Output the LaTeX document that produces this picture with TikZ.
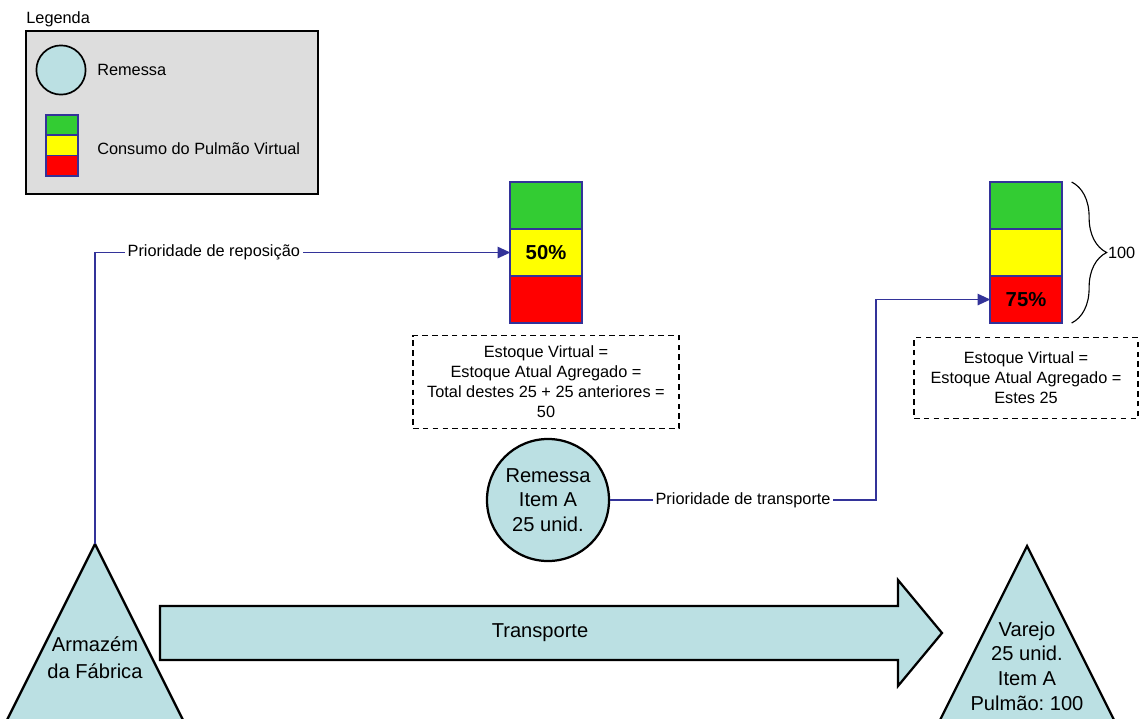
\documentclass[tikz,border=0pt]{standalone}
\usepackage{fontspec}
\setmainfont{Liberation Sans}
\usepackage{xcolor}
\usepackage{tikz}
\usetikzlibrary{arrows.meta, positioning, calc, decorations.pathreplacing}
\definecolor{azulclaro}{HTML}{BBE0E3}
\definecolor{cinzalegenda}{HTML}{DDDDDD}
\definecolor{marinho}{HTML}{333399}
\definecolor{verde}{HTML}{33CC33}
\definecolor{amarelo}{HTML}{FFFF00}
\definecolor{vermelho}{HTML}{FF0000}
\frenchspacing

\begin{document}
\begin{tikzpicture}[x=0.025cm, y=-0.025cm,
    texto/.style={font=\fontsize{11.6}{14.2}\selectfont},
    grande/.style={font=\fontsize{14.3}{17.5}\selectfont, align=center},
    faixa/.style={draw=marinho, line width=1.4pt, outer sep=0pt, minimum width=1.78cm, minimum height=1.175cm,
                  inner sep=0pt, font=\fontsize{14.4}{17}\selectfont\bfseries},
    faixamini/.style={draw=marinho, line width=1.2pt, outer sep=0pt, minimum width=0.8cm, minimum height=0.51cm, inner sep=0pt},
    nota/.style={draw, dashed, dash pattern=on 4pt off 3pt, line width=0.8pt, align=center, texto, inner sep=0pt},
    local/.style={draw, line width=1.6pt, fill=azulclaro, line join=miter},
    seta/.style={-{Triangle[length=9pt, width=8pt]}, line width=1.1pt, marinho},
    rotulo/.style={texto, fill=white, inner xsep=2pt, inner ysep=1pt, text=black},
    chave/.style={decorate, decoration={brace, amplitude=0.875cm}, line width=0.8pt}
]
    \useasboundingbox (0,0) rectangle (1144,718);

    \node[draw, line width=1.8pt, fill=cinzalegenda, minimum width=7.3cm, minimum height=4.075cm,
          label={[texto, anchor=south west, inner sep=1pt, yshift=1pt]north west:Legenda}] (legenda) at (172,112.5) {};
    \node[circle, draw, line width=1.2pt, fill=azulclaro, minimum size=1.23cm] (legremessa) at (61,70) {};
    \node[texto, anchor=west, inner sep=0pt] (legremessatxt) at (97,70) {Remessa};
    \node[faixamini, fill=verde] (legv) at (61.7,125) {};
    \node[faixamini, fill=amarelo, below=0pt of legv] (lega) {};
    \node[faixamini, fill=vermelho, below=0pt of lega] (legr) {};
    \node[texto, anchor=west, inner sep=0pt] (legfaixatxt) at (97,149) {Consumo do Pulmão Virtual};

    \node[faixa, fill=verde] (p1v) at (546,205.5) {};
    \node[faixa, fill=amarelo, below=0pt of p1v] (p1a) {50\%};
    \node[faixa, fill=vermelho, below=0pt of p1a] (p1r) {};
    \node[faixa, fill=verde] (p2v) at (1026,205.5) {};
    \node[faixa, fill=amarelo, below=0pt of p2v] (p2a) {};
    \node[faixa, fill=vermelho, below=0pt of p2a] (p2r) {75\%};
    \draw[chave] ($(p2v.north east)+(10,0)$) -- ($(p2r.south east)+(10,0)$)
        node[texto, midway, anchor=west, inner sep=0.5pt, xshift=0.88cm] (cem) {100};

    \node[nota, minimum width=6.65cm, minimum height=2.325cm, below=0.3cm of p1r] (nota1)
        {Estoque Virtual =\\Estoque Atual Agregado =\\Total destes 25 + 25 anteriores =\\50};
    \node[nota, minimum width=5.6cm, minimum height=2.025cm, below=0.35cm of p2r] (nota2)
        {Estoque Virtual =\\Estoque Atual Agregado =\\Estes 25};

    \node[circle, local, minimum size=3.05cm, grande, inner sep=0pt] (remessa) at (548,500) {Remessa\\Item A\\25 unid.};

    \coordinate (armazem) at (95,544);
    \draw[local] (armazem) -- ++(89,178) -- ++(-178,0) -- cycle;
    \node[grande, font=\fontsize{14.3}{19}\selectfont] (armazemtxt) at (95,658) {Armazém\\da Fábrica};
    \coordinate (varejo) at (1027,546);
    \draw[local] (varejo) -- ++(88,176) -- ++(-176,0) -- cycle;
    \node[grande] (varejotxt) at (1027,666) {Varejo\\25 unid.\\Item A\\Pulmão: 100};

    \draw[local] (160,606) -- (898,606) -- (898,580) -- (942,633) -- (898,686) -- (898,660) -- (160,660) -- cycle;
    \node[grande] (transporte) at (540,633) {Transporte};

    \draw[seta] (armazem) |- node[rotulo, pos=0.643] {Prioridade de reposição} (p1a.west);
    \coordinate (dobra) at (876,500);
    \draw[seta] (remessa.east) -- node[rotulo] {Prioridade de transporte} (dobra) |- (p2r.west);
\end{tikzpicture}
\end{document}
